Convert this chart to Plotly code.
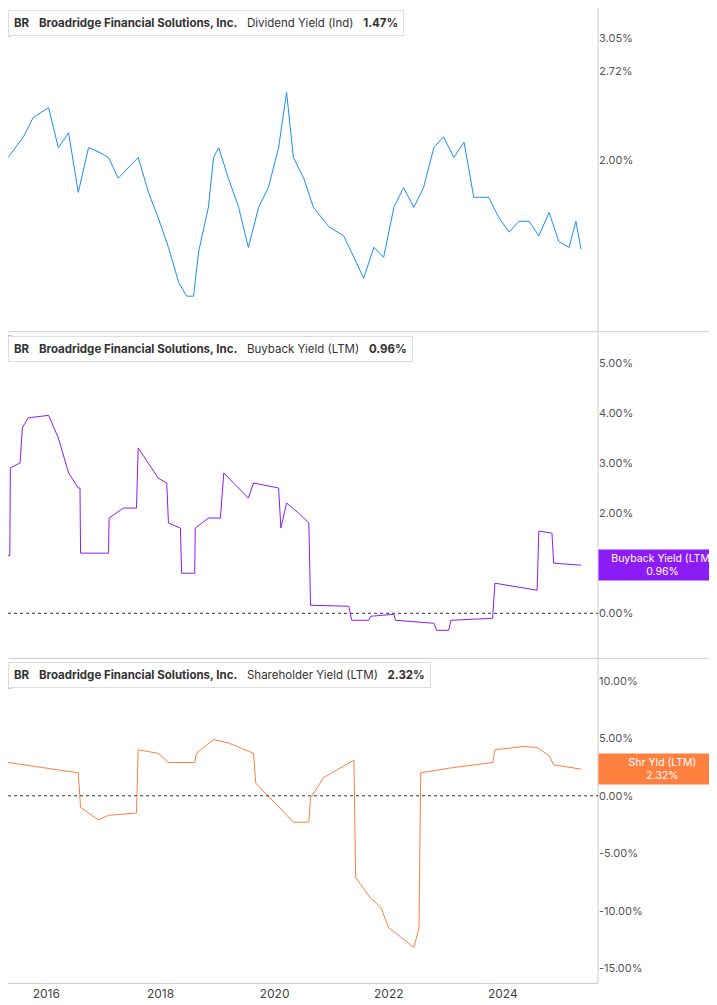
import pandas as pd
import plotly.graph_objects as go

def to_dates(years):
    return [pd.Timestamp("2015-01-01") + pd.Timedelta(days=(y - 2015) * 365.25) for y in years]

# dividend yield (Ind), %
div_t = [2015.33, 2015.6, 2015.77, 2016.04, 2016.21, 2016.39, 2016.56, 2016.74, 2016.91, 2017.09,
         2017.26, 2017.44, 2017.61, 2017.79, 2017.96, 2018.14, 2018.32, 2018.46, 2018.58, 2018.67,
         2018.84, 2018.93, 2019.02, 2019.19, 2019.37, 2019.54, 2019.72, 2019.89, 2020.07, 2020.21,
         2020.33, 2020.51, 2020.68, 2020.95, 2021.21, 2021.39, 2021.56, 2021.74, 2021.91, 2022.09,
         2022.26, 2022.44, 2022.61, 2022.79, 2022.96, 2023.14, 2023.32, 2023.49, 2023.75, 2023.93,
         2024.11, 2024.28, 2024.46, 2024.63, 2024.81, 2024.98, 2025.16, 2025.28, 2025.37]
div_v = [2.02, 2.17, 2.32, 2.40, 2.09, 2.20, 1.79, 2.09, 2.06, 2.02,
         1.88, 1.95, 2.02, 1.79, 1.64, 1.48, 1.31, 1.25, 1.25, 1.46,
         1.70, 2.02, 2.09, 1.88, 1.70, 1.48, 1.70, 1.82, 2.09, 2.53,
         2.02, 1.88, 1.70, 1.59, 1.54, 1.43, 1.33, 1.48, 1.43, 1.70,
         1.82, 1.70, 1.82, 2.09, 2.17, 2.02, 2.13, 1.76, 1.76, 1.64,
         1.56, 1.62, 1.62, 1.54, 1.67, 1.51, 1.48, 1.62, 1.47]

# buyback yield (LTM), %
bb_t = [2015.33, 2015.36, 2015.37, 2015.54, 2015.58, 2015.68, 2016.04, 2016.21, 2016.39, 2016.56,
        2016.59, 2016.6, 2017.09, 2017.1, 2017.35, 2017.58, 2017.61, 2017.96, 2018.11, 2018.14,
        2018.35, 2018.37, 2018.6, 2018.61, 2018.84, 2019.05, 2019.11, 2019.37, 2019.54, 2019.63,
        2020.07, 2020.11, 2020.21, 2020.42, 2020.6, 2020.63, 2021.3, 2021.35, 2021.65, 2021.68,
        2022.09, 2022.12, 2022.79, 2022.84, 2023.05, 2023.09, 2023.82, 2023.86, 2024.35, 2024.6,
        2024.63, 2024.86, 2024.89, 2025.37]
bb_v = [1.15, 1.15, 2.9, 3.0, 3.7, 3.9, 3.95, 3.5, 2.8, 2.5,
        2.5, 1.2, 1.2, 1.9, 2.1, 2.1, 3.3, 2.7, 2.6, 1.8,
        1.7, 0.8, 0.8, 1.7, 1.9, 1.9, 2.8, 2.5, 2.3, 2.6,
        2.5, 1.7, 2.2, 2.0, 1.8, 0.16, 0.14, -0.14, -0.14, -0.06,
        -0.02, -0.14, -0.2, -0.34, -0.34, -0.14, -0.1, 0.6, 0.5, 0.46,
        1.64, 1.6, 1.0, 0.96]

# shareholder yield (LTM), %
sh_t = [2015.33, 2016.56, 2016.6, 2016.91, 2017.09, 2017.58, 2017.61, 2017.96, 2018.14, 2018.6,
        2018.63, 2018.93, 2019.19, 2019.63, 2019.67, 2020.07, 2020.33, 2020.6, 2020.63, 2020.86,
        2021.39, 2021.42, 2021.68, 2021.86, 2022.0, 2022.21, 2022.44, 2022.53, 2022.56, 2023.05,
        2023.82, 2023.86, 2024.37, 2024.6, 2024.81, 2024.89, 2025.37]
sh_v = [2.9, 2.0, -1.0, -2.1, -1.7, -1.5, 4.0, 3.7, 2.9, 2.9,
        3.7, 4.9, 4.6, 3.7, 1.1, -1.0, -2.3, -2.3, -0.2, 1.6,
        3.1, -7.1, -8.9, -9.7, -11.5, -12.3, -13.2, -11.5, 2.0, 2.4,
        2.9, 4.0, 4.3, 4.2, 3.5, 2.7, 2.32]

year_ticks = ["2016-01-01", "2018-01-01", "2020-01-01", "2022-01-01", "2024-01-01"]
year_labels = ["2016", "2018", "2020", "2022", "2024"]

BLUE, PURPLE, ORANGE = "#1a8cff", "#8c1cf5", "#ff7f3f"
TXT = "#333333"

fig = go.Figure()
fig.add_trace(go.Scatter(x=to_dates(div_t), y=div_v, mode="lines", line=dict(color=BLUE, width=1), xaxis="x", yaxis="y"))
fig.add_trace(go.Scatter(x=to_dates(bb_t), y=bb_v, mode="lines", line=dict(color=PURPLE, width=1), xaxis="x", yaxis="y2"))
fig.add_trace(go.Scatter(x=to_dates(sh_t), y=sh_v, mode="lines", line=dict(color=ORANGE, width=1), xaxis="x", yaxis="y3"))

yax = dict(side="right", showgrid=False, zeroline=False, ticks="", anchor="x",
           tickfont=dict(size=11, color="#555"), ticksuffix="  ", fixedrange=True)

fig.update_layout(
    width=717, height=1005, showlegend=False,
    margin=dict(l=0, r=127, t=0, b=30, autoexpand=False),
    paper_bgcolor="white", plot_bgcolor="white",
    font=dict(family="Inter, Roboto, sans-serif", color=TXT, size=11),
    xaxis=dict(range=[pd.Timestamp("2015-05-01"), pd.Timestamp("2025-09-01")], showgrid=False,
               anchor="free", position=0,
               tickvals=year_ticks, ticktext=year_labels, ticks="",
               tickfont=dict(size=12, color="#444"), showline=True, linecolor="#ccc"),
    yaxis=dict(yax, type="log", domain=[0.669, 1], range=[0.045, 0.530],
               tickvals=[2.0, 2.72, 3.05], ticktext=["2.00%", "2.72%", "3.05%"]),
    yaxis2=dict(yax, domain=[0.335, 0.667], range=[-0.86, 5.6],
                tickvals=[0, 1, 2, 3, 4, 5], ticktext=["0.00%", "1.00%", "2.00%", "3.00%", "4.00%", "5.00%"]),
    yaxis3=dict(yax, domain=[0, 0.331], range=[-16.3, 11.8],
                tickvals=[-15, -10, -5, 0, 5, 10],
                ticktext=["-15.00%", "-10.00%", "-5.00%", "0.00%", "5.00%", "10.00%"]),
)

shapes = [
    dict(type="line", xref="paper", yref="paper", x0=1, x1=1, y0=0, y1=1, line=dict(color="#ccc", width=1)),
    dict(type="line", xref="paper", yref="paper", x0=0, x1=1.22, y0=0.668, y1=0.668, line=dict(color="#ccc", width=1)),
    dict(type="line", xref="paper", yref="paper", x0=0, x1=1.22, y0=0.333, y1=0.333, line=dict(color="#ccc", width=1)),
    dict(type="line", xref="x domain", yref="y2", x0=0, x1=1, y0=0, y1=0, line=dict(color="#333", width=1, dash="dot")),
    dict(type="line", xref="x domain", yref="y3", x0=0, x1=1, y0=0, y1=0, line=dict(color="#333", width=1, dash="dot")),
]

heads = [
    ("Dividend Yield (Ind)", "1.47%", BLUE, 0.998),
    ("Buyback Yield (LTM)", "0.96%", PURPLE, 0.664),
    ("Shareholder Yield (LTM)", "2.32%", ORANGE, 0.329),
]
anns = []
for name, val, col, ytop in heads:
    anns.append(dict(xref="paper", yref="paper", x=0.0, y=ytop, xanchor="left", yanchor="top",
                     text=f"<b>BR</b>   <b>Broadridge Financial Solutions, Inc.</b>   {name}   <b>{val}</b>",
                     showarrow=False, bordercolor="#ddd", borderwidth=1, borderpad=5, bgcolor="white",
                     font=dict(size=11.5, color=TXT)))
    shapes.append(dict(type="rect", xref="paper", yref="paper", x0=0.0, x1=0.006,
                       y0=ytop - 0.027, y1=ytop, fillcolor=col, line=dict(width=0)))

tags = [("Div Yld (Ind)", "1.47%", BLUE, "y", 1.47),
        ("Buyback Yield (LTM)", "0.96%", PURPLE, "y2", 0.96),
        ("Shr Yld (LTM)", "2.32%", ORANGE, "y3", 2.32)]
for lab, val, col, yr, v in tags:
    anns.append(dict(xref="paper", yref=yr, x=1.0, y=v, xanchor="left", yanchor="middle",
                     text=f"{lab}<br>{val}", showarrow=False, bgcolor=col, width=123, height=26,
                     borderpad=2, font=dict(size=10.5, color="white")))

fig.update_layout(shapes=shapes, annotations=anns)
fig.write_html("out.html")
